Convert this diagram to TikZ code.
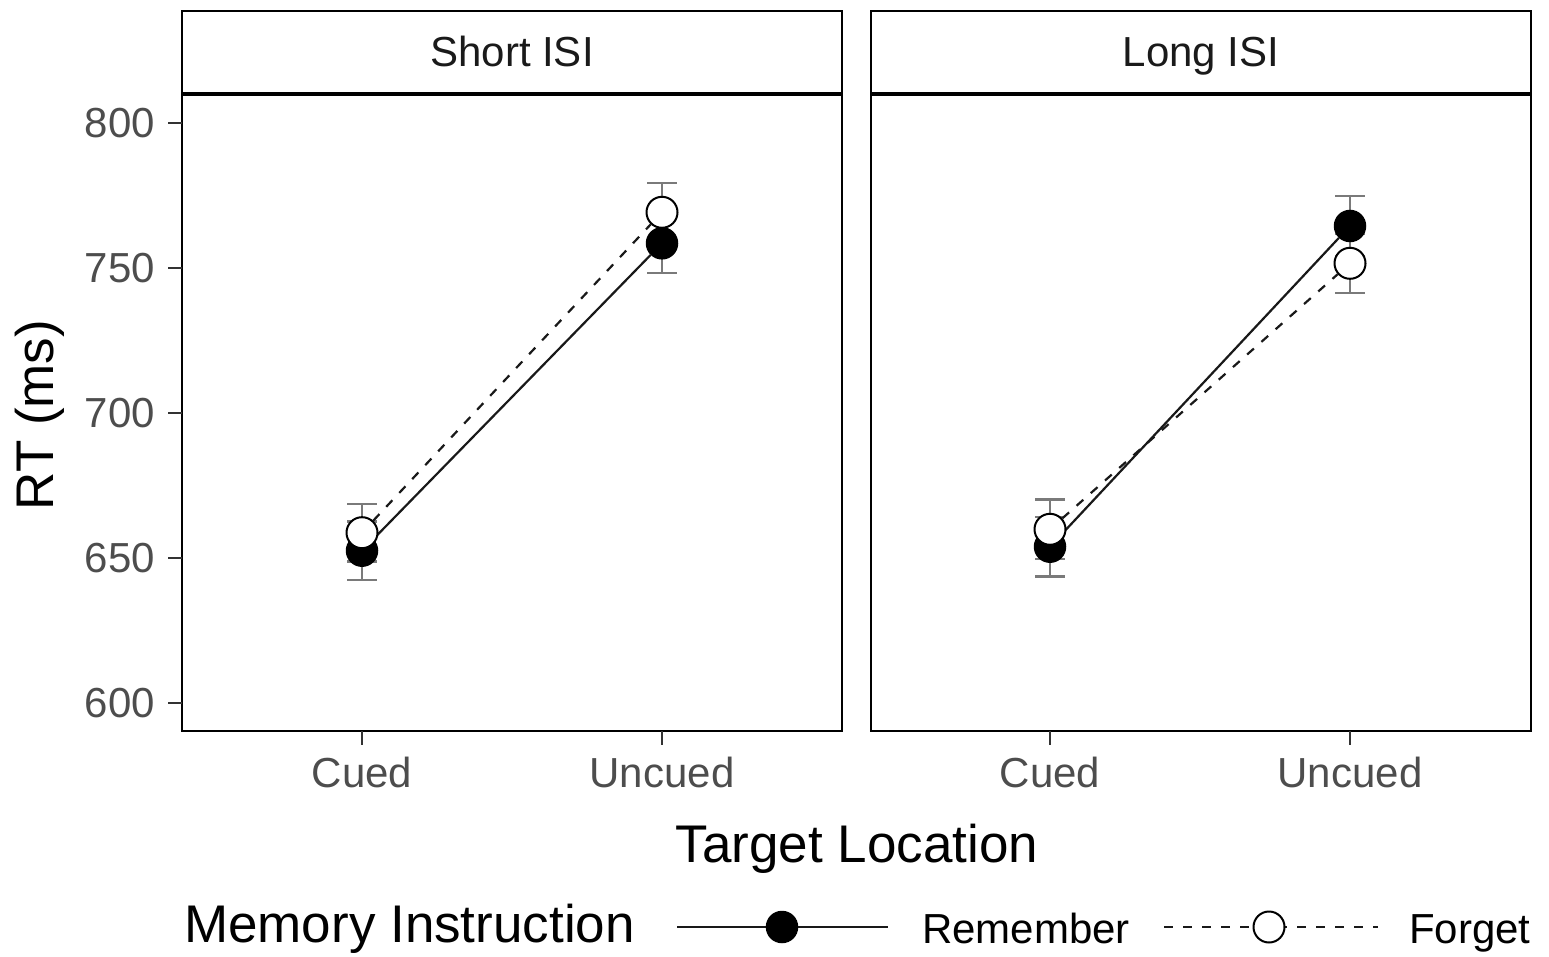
\documentclass[tikz,border=0pt]{standalone}
\usepackage{fontspec}
\setmainfont{Liberation Sans}
\definecolor{ticktext}{HTML}{4D4D4D}
\definecolor{tickline}{HTML}{333333}
\definecolor{stripText}{HTML}{1A1A1A}
\definecolor{errgray}{HTML}{7A7A7A}
\newcommand\myerr[3]{\draw[errbar] (#1-15,#2) -- (#1+15,#2) (#1,#2) -- (#1,#3) (#1-15,#3) -- (#1+15,#3);}
\begin{document}
\begin{tikzpicture}[x=1pt,y=-1pt,
  panelbox/.style={draw=black, line width=2.6pt},
  stripline/.style={draw=black, line width=3.6pt},
  tickmark/.style={draw=tickline, line width=2.6pt},
  ticklab/.style={inner sep=0pt, text=ticktext, font=\fontsize{42}{48}\selectfont},
  striplab/.style={inner sep=0pt, text=stripText, font=\fontsize{42}{48}\selectfont},
  axtitle/.style={inner sep=0pt, text=black, font=\fontsize{53}{60}\selectfont},
  keylab/.style={inner sep=0pt, text=black, font=\fontsize{42}{48}\selectfont},
  errbar/.style={draw=errgray, line width=2.8pt},
  rempt/.style={circle, fill=black, draw=black, line width=1.5pt, minimum size=31pt, inner sep=0pt},
  fgtpt/.style={circle, fill=white, draw=black, line width=2pt, minimum size=31pt, inner sep=0pt},
  remline/.style={draw=black!90, line width=2.2pt},
  fgtline/.style={draw=black!90, line width=2.2pt, dash pattern=on 9pt off 10pt}
]
\useasboundingbox (0,0) rectangle (1549,957);

% ---------- panels and strips ----------
\draw[panelbox] (182,11) rectangle (842,731);
\draw[stripline] (182,94) -- (842,94);
\draw[panelbox] (871,11) rectangle (1531,731);
\draw[stripline] (871,94) -- (1531,94);
\node[striplab, anchor=base] (s1) at (512,67) {Short ISI};
\node[striplab, anchor=base] (s2) at (1201,67) {Long ISI};

% ---------- y axis ----------
\foreach \v/\yy in {800/123, 750/268, 700/413, 650/558, 600/703}{
  \draw[tickmark] (168,\yy) -- (182,\yy);
  \node[ticklab, anchor=east] (y\v) at (155,\yy) {\v};
}
% ---------- x axis ----------
\foreach \xx/\lab/\nm in {362/Cued/a, 662/Uncued/b, 1050/Cued/c, 1350/Uncued/d}{
  \draw[tickmark] (\xx,731) -- (\xx,745);
  \node[ticklab, anchor=base] (x\nm) at (\xx,787) {\lab};
}

% ---------- titles ----------
\node[axtitle, anchor=base, rotate=90] (ytitle) at (53,415) {RT (ms)};
\node[axtitle, anchor=base] (xtitle) at (857,862) {Target Location};

% ---------- error bars ----------
\myerr{362}{504}{561.5}
\myerr{362}{521.5}{580}
\myerr{662}{183}{242}
\myerr{662}{214}{273}
\myerr{1050}{499.5}{559}
\myerr{1050}{517}{576.5}
\myerr{1350}{196}{256}
\myerr{1350}{234}{293}

% ---------- points ----------
\node[rempt] (rA) at (362,550.7) {};
\node[rempt] (rB) at (662,243.3) {};
\node[rempt] (rC) at (1050,546.7) {};
\node[rempt] (rD) at (1350,226) {};
\draw[remline] (rA) -- (rB);
\draw[remline] (rC) -- (rD);
\node[fgtpt] (fA) at (362,532.7) {};
\node[fgtpt] (fB) at (662,212.3) {};
\node[fgtpt] (fC) at (1050,529.3) {};
\node[fgtpt] (fD) at (1350,263.3) {};
\draw[fgtline] (fA) -- (fB);
\draw[fgtline] (fC) -- (fD);

% ---------- legend ----------
\node[axtitle, anchor=base west] (ltitle) at (184,942) {Memory Instruction};
\coordinate (k1a) at (677,927);
\coordinate (k1b) at (888,927);
\draw[remline] (k1a) -- (k1b);
\node[rempt] (k1) at (782,927) {};
\node[keylab, anchor=base west] (k1t) at (922,943) {Remember};
\coordinate (k2a) at (1164,927);
\coordinate (k2b) at (1378,927);
\draw[fgtline] (k2a) -- (k2b);
\node[fgtpt] (k2) at (1269,927) {};
\node[keylab, anchor=base west] (k2t) at (1409,943) {Forget};
\end{tikzpicture}
\end{document}
